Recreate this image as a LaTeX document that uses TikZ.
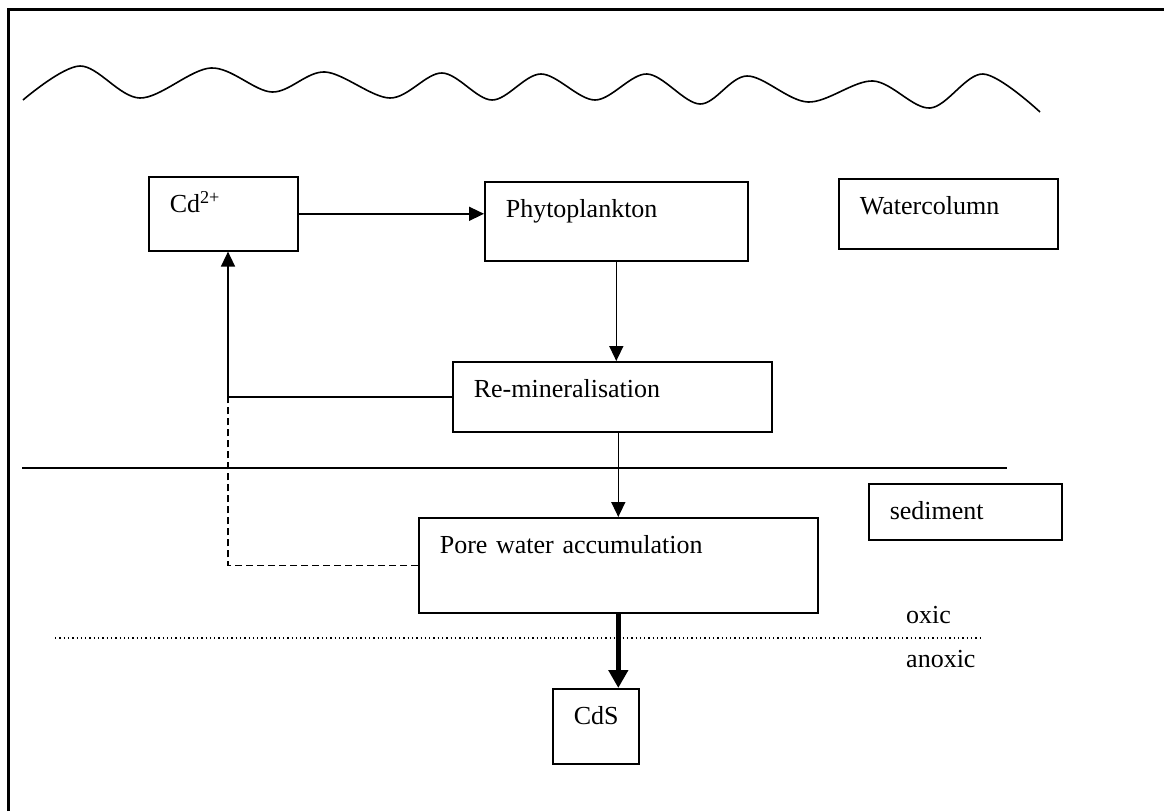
\documentclass[tikz,border=0pt]{standalone}
\usepackage{fontspec}
\setmainfont{Liberation Serif}
\usetikzlibrary{arrows.meta,calc}

\begin{document}
\begin{tikzpicture}[x=1pt, y=-1pt,
    box/.style={draw, line width=1.6pt, anchor=north west, inner xsep=21pt, inner ysep=0pt,
                text height=36pt, align=left, font=\fontsize{26}{31}\selectfont},
    flow/.style={line width=1.5pt, -{Triangle[length=15pt,width=14pt]}},
    lbl/.style={anchor=base west, inner sep=0pt, font=\fontsize{26}{31}\selectfont}]
    \useasboundingbox (0,0) rectangle (1164,811);
    % frame
    \draw[line width=3pt] (8,811) -- (8,9) -- (1164,9);
    % water surface
    \draw[line width=1.6pt] plot[smooth, tension=0.55] coordinates {(23,100) (80,66) (140,98) (211,68)
        (272,92) (325,72) (390,98) (442,73) (492,100) (541,74) (595,100) (647,74) (700,104)
        (747,76) (808,102) (873,81) (930,108) (983,74) (1040,112)};
    % boxes
    \node[box, text width=107pt, text depth=38pt] (cd) at (148,176) {Cd\textsuperscript{2+}};
    \node[box, text width=221pt, text depth=43pt] (phyto) at (484,181) {Phytoplankton};
    \node[box, text width=177pt, text depth=34pt] (water) at (838,178) {Watercolumn};
    \node[box, text width=277pt, text depth=34pt] (remin) at (452,361) {Re-mineralisation};
    \node[box, text width=151pt, text depth=20pt] (sed) at (868,483) {sediment};
    \node[box, text width=357pt, text depth=59pt] (pore) at (418,517) {Pore water accumulation};
    \node[box, text width=44pt, text depth=39pt] (cds) at (552,688) {CdS};
    \node[lbl] (oxic) at (906,623) {oxic};
    \node[lbl] (anoxic) at (906,667) {anoxic};
    % sediment surface and redox boundary
    \draw[line width=1.5pt] (22,468) -- (1007,468);
    \draw[line width=1.3pt, dash pattern=on 1.3pt off 3pt] (55,638) -- (982,638);
    % fluxes
    \coordinate (bend) at ($(remin.west)+(-224,0)$);
    \draw[flow] (cd.east) -- (cd.east -| phyto.west);
    \draw[flow] (phyto.south) -- (phyto.south |- remin.north);
    \draw[flow] (remin.west) -- (bend) -- (bend |- cd.south);
    \draw[flow] (pore.north |- remin.south) -- (pore.north);
    \draw[line width=1.5pt, dash pattern=on 7pt off 4pt] (pore.west) -| (bend);
    \draw[line width=5.5pt, -{Triangle[length=18pt,width=19pt]}] (pore.south) -- (pore.south |- cds.north);
\end{tikzpicture}
\end{document}
